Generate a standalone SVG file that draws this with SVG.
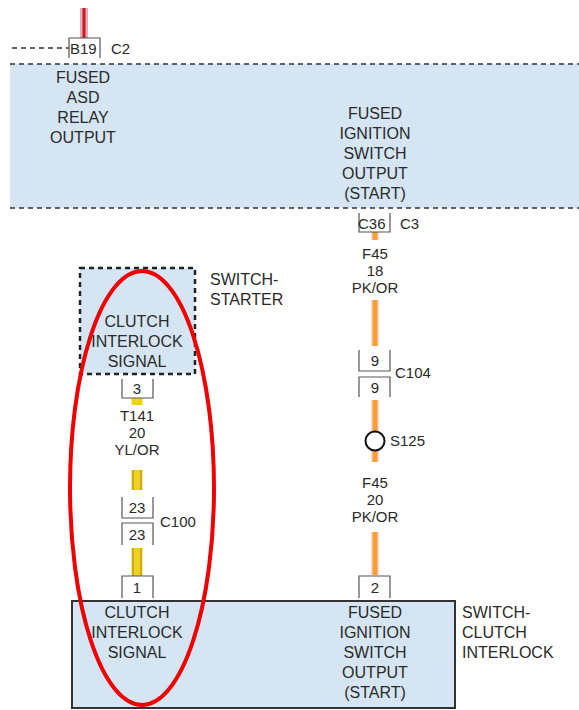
<svg xmlns="http://www.w3.org/2000/svg" width="579" height="710" viewBox="0 0 579 710">
<style>
  text { font-family: "Liberation Sans", Arial, sans-serif; font-size: 16px; fill: #2a2a2a; }
  .c { text-anchor: middle; }
  .s { font-size: 15px; }
  .pin { fill: none; stroke: #555; stroke-width: 1.2; }
  .dash { fill: none; stroke: #333; stroke-width: 1.5; stroke-dasharray: 5 4; }
  .dbox { fill: none; stroke: #222; stroke-width: 2.5; stroke-dasharray: 5 4; }
  .blue { fill: #d5e5f4; }
  .ow { stroke: #fbb89a; stroke-width: 7; }
  .oc { stroke: #f7a030; stroke-width: 4; }
  .yw { stroke: #f0d020; stroke-width: 11; }
  .yc { stroke: #a08a10; stroke-width: 1; }
</style>
<rect width="579" height="710" fill="#ffffff"/>

<g id="connectors">
  <line x1="84" y1="8" x2="84" y2="38" stroke="#f2a8b0" stroke-width="8"/>
  <line x1="84" y1="8" x2="84" y2="38" stroke="#b8202e" stroke-width="3"/>
  <line x1="12" y1="48" x2="69" y2="48" class="dash"/>
  <line x1="375" y1="232" x2="375" y2="240" class="ow"/>
  <line x1="375" y1="232" x2="375" y2="240" class="oc"/>
  <line x1="375" y1="300" x2="375" y2="346" class="ow"/>
  <line x1="375" y1="300" x2="375" y2="346" class="oc"/>
  <line x1="375" y1="400" x2="375" y2="431" class="ow"/>
  <line x1="375" y1="400" x2="375" y2="431" class="oc"/>
  <line x1="375" y1="451" x2="375" y2="462" class="ow"/>
  <line x1="375" y1="451" x2="375" y2="462" class="oc"/>
  <line x1="375" y1="532" x2="375" y2="575" class="ow"/>
  <line x1="375" y1="532" x2="375" y2="575" class="oc"/>
  <line x1="137" y1="398" x2="137" y2="405" class="yw"/>
  <line x1="137" y1="470" x2="137" y2="490" class="yw"/>
  <line x1="133" y1="470" x2="133" y2="490" class="yc"/>
  <line x1="141" y1="470" x2="141" y2="490" class="yc"/>
  <line x1="137" y1="548" x2="137" y2="576" class="yw"/>
  <line x1="133" y1="548" x2="133" y2="576" class="yc"/>
  <line x1="141" y1="548" x2="141" y2="576" class="yc"/>
</g>

<g id="fused-band">
  <rect x="10" y="64" width="569" height="144" class="blue"/>
  <line x1="10" y1="64" x2="579" y2="64" class="dash"/>
  <line x1="10" y1="208" x2="579" y2="208" class="dash"/>
  <text class="c" x="83" y="83">FUSED</text>
  <text class="c" x="83" y="103">ASD</text>
  <text class="c" x="83" y="123">RELAY</text>
  <text class="c" x="83" y="143">OUTPUT</text>
  <text class="c" x="375" y="119">FUSED</text>
  <text class="c" x="375" y="139">IGNITION</text>
  <text class="c" x="375" y="159">SWITCH</text>
  <text class="c" x="375" y="179">OUTPUT</text>
  <text class="c" x="375" y="199">(START)</text>
</g>

<g id="conn-b19">
  <path d="M69,58 V38 H100 V58" class="pin"/>
  <text class="s" x="70" y="54">B19</text>
  <text class="s" x="111" y="54">C2</text>
</g>

<g id="conn-c36">
  <path d="M359,213 V232 H390 V213" class="pin"/>
  <text class="s" x="358" y="229">C36</text>
  <text class="s" x="400" y="229">C3</text>
</g>

<g id="wire-f45-18">
  <text class="c s" x="375" y="259">F45</text>
  <text class="c s" x="375" y="276">18</text>
  <text class="c s" x="375" y="293">PK/OR</text>
</g>

<g id="conn-c104">
  <path d="M359,350 V371 H390 V350" class="pin"/>
  <text class="c s" x="375" y="366">9</text>
  <path d="M359,397 V377 H390 V397" class="pin"/>
  <text class="c s" x="375" y="393">9</text>
  <text class="s" x="395" y="378">C104</text>
</g>

<g id="splice-s125">
  <circle cx="375" cy="441" r="9.5" fill="#ffffff" stroke="#111" stroke-width="2"/>
  <text class="s" x="390" y="446">S125</text>
</g>

<g id="wire-f45-20">
  <text class="c s" x="375" y="488">F45</text>
  <text class="c s" x="375" y="505">20</text>
  <text class="c s" x="375" y="522">PK/OR</text>
</g>

<g id="switch-starter">
  <rect x="80" y="268" width="115" height="106" class="blue"/>
  <rect x="80" y="268" width="115" height="106" class="dbox"/>
  <text class="c" x="137" y="327">CLUTCH</text>
  <text class="c" x="137" y="347">INTERLOCK</text>
  <text class="c" x="137" y="367">SIGNAL</text>
  <text x="210" y="285">SWITCH-</text>
  <text x="210" y="305">STARTER</text>
</g>

<g id="conn-3">
  <path d="M122,379 V398 H153 V379" class="pin"/>
  <text class="c s" x="137" y="394">3</text>
</g>

<g id="wire-t141">
  <text class="c s" x="137" y="421">T141</text>
  <text class="c s" x="137" y="438">20</text>
  <text class="c s" x="137" y="455">YL/OR</text>
</g>

<g id="conn-c100">
  <path d="M122,497 V518 H153 V497" class="pin"/>
  <text class="c s" x="137" y="513">23</text>
  <path d="M122,545 V523 H153 V545" class="pin"/>
  <text class="c s" x="137" y="540">23</text>
  <text class="s" x="160" y="527">C100</text>
</g>

<g id="conn-1">
  <path d="M122,598 V576 H153 V598" class="pin"/>
  <text class="c s" x="137" y="593">1</text>
</g>

<g id="conn-2">
  <path d="M359,598 V576 H390 V598" class="pin"/>
  <text class="c s" x="375" y="593">2</text>
</g>

<g id="switch-clutch-interlock">
  <rect x="72" y="601" width="383" height="107" class="blue" stroke="#333" stroke-width="2"/>
  <text class="c" x="137" y="618">CLUTCH</text>
  <text class="c" x="137" y="638">INTERLOCK</text>
  <text class="c" x="137" y="658">SIGNAL</text>
  <text class="c" x="375" y="618">FUSED</text>
  <text class="c" x="375" y="638">IGNITION</text>
  <text class="c" x="375" y="658">SWITCH</text>
  <text class="c" x="375" y="678">OUTPUT</text>
  <text class="c" x="375" y="698">(START)</text>
  <text x="462" y="618">SWITCH-</text>
  <text x="462" y="638">CLUTCH</text>
  <text x="462" y="658">INTERLOCK</text>
</g>

<g id="highlight">
  <ellipse cx="142" cy="488" rx="72" ry="217" fill="none" stroke="#f00000" stroke-width="4"/>
</g>
</svg>
